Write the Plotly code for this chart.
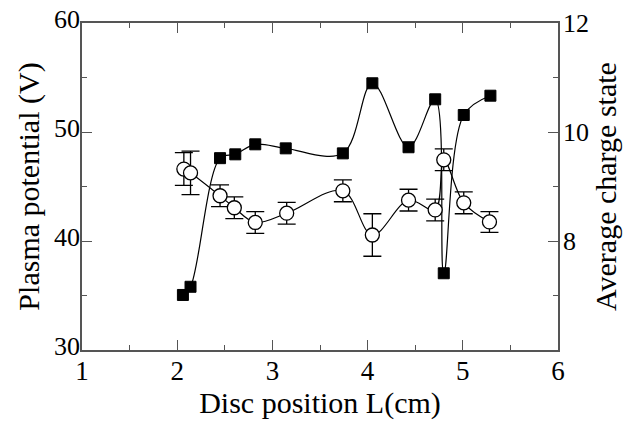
import plotly.graph_objects as go

# Data
disc_pos_sq = [2.06, 2.14, 2.45, 2.61, 2.82, 3.14, 3.74, 4.05, 4.43, 4.71, 4.80, 5.01, 5.29]
plasma_potential = [35.05, 35.8, 47.6, 47.95, 48.87, 48.5, 48.04, 54.47, 48.6, 53.0, 37.04, 51.56, 53.33]

disc_pos_c = [2.07, 2.14, 2.45, 2.60, 2.82, 3.15, 3.74, 4.05, 4.43, 4.71, 4.80, 5.01, 5.28]
charge_state = [9.32, 9.25, 8.83, 8.61, 8.34, 8.51, 8.92, 8.11, 8.75, 8.57, 9.49, 8.70, 8.35]
charge_err = [0.30, 0.40, 0.20, 0.20, 0.20, 0.20, 0.20, 0.39, 0.20, 0.20, 0.20, 0.20, 0.19]

right_ticks = [8, 10, 12]
right_minor = [7, 9, 11]

font_family = "Liberation Serif, Times New Roman, serif"
axis_col = "#555555"

fig = go.Figure()
fig.add_trace(go.Scatter(
    x=disc_pos_sq, y=plasma_potential, mode="lines+markers",
    line=dict(color="black", width=1.2, shape="spline", smoothing=1.0),
    marker=dict(symbol="square", size=11, color="black", line=dict(color="black", width=1)),
    yaxis="y", showlegend=False))
fig.add_trace(go.Scatter(
    x=disc_pos_c, y=charge_state, mode="lines+markers",
    line=dict(color="black", width=1.2, shape="spline", smoothing=1.0),
    marker=dict(symbol="circle", size=14, color="white", line=dict(color="black", width=1.3)),
    error_y=dict(type="data", array=charge_err, visible=True, color="black", thickness=1.3, width=9),
    yaxis="y2", showlegend=False))

common = dict(showline=True, linecolor=axis_col, linewidth=1.5, ticks="inside",
              tickcolor=axis_col, ticklen=10, tickwidth=1.3, showgrid=False, zeroline=False,
              automargin=False)
minor_style = dict(ticks="inside", ticklen=5, tickcolor=axis_col, tickwidth=1.3)

fig.update_layout(
    width=635, height=421,
    margin=dict(l=82, r=77, t=23, b=71),
    paper_bgcolor="white", plot_bgcolor="white",
    font=dict(family=font_family, size=26, color="black"),
    xaxis=dict(range=[1, 6], dtick=1, mirror="ticks",
               minor=dict(dtick=0.5, **minor_style),
               tickfont=dict(family=font_family, size=27, color="black"),
               ticklabelstandoff=-4,
               title=dict(text="Disc position L(cm)", font=dict(family=font_family, size=30), standoff=0),
               **common),
    yaxis=dict(range=[30, 60], dtick=10,
               minor=dict(dtick=5, **minor_style),
               tickfont=dict(family=font_family, size=26, color="black"),
               ticklabelstandoff=-5, ticklabelshift=-4,
               title=dict(text="Plasma potential (V)", font=dict(family=font_family, size=30), standoff=6),
               **common),
    yaxis2=dict(range=[6, 12], tickmode="array", tickvals=right_ticks, overlaying="y", side="right",
                minor=dict(tickmode="array", tickvals=right_minor, **minor_style),
                tickfont=dict(family=font_family, size=26, color="black"),
                ticklabelstandoff=-2,
                title=dict(text="Average charge state", font=dict(family=font_family, size=30), standoff=2),
                **common),
)

fig.write_html("out.html")
